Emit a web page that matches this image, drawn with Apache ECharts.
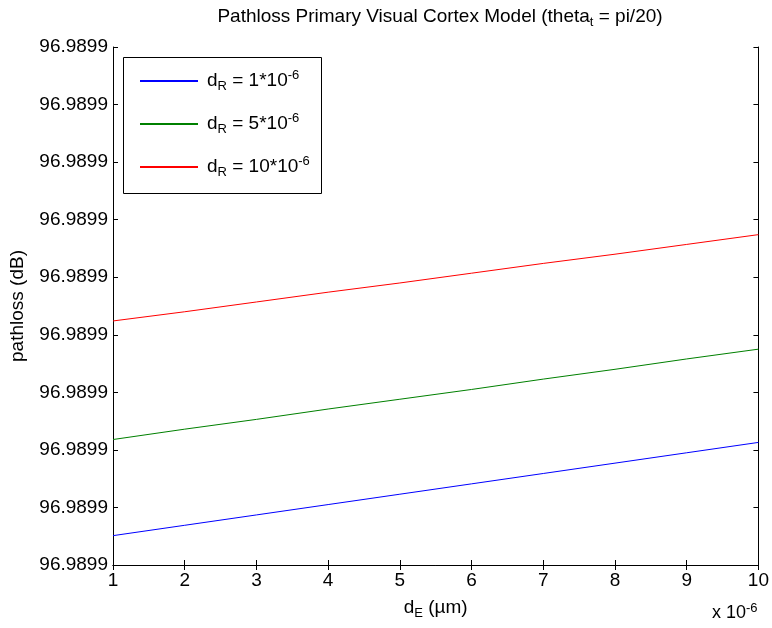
<!DOCTYPE html>
<html>
<head>
<meta charset="utf-8">
<title>Pathloss Primary Visual Cortex Model</title>
<script src="https://cdn.jsdelivr.net/npm/echarts@6/dist/echarts.min.js"></script>
<style>
  html, body { margin: 0; padding: 0; background: #fff; }
  #chart { width: 772px; height: 628px; }
</style>
</head>
<body>
<div id="chart"></div>
<script>
// d_E values (x 10^-6)
var dE = [1, 2, 3, 4, 5, 6, 7, 8, 9, 10]
// pathloss offsets, read in tick steps above the lowest tick
var blueVals = [0.51, 0.69, 0.87, 1.05, 1.23, 1.41, 1.59, 1.77, 1.95, 2.13]
var greenVals = [2.18, 2.36, 2.53, 2.71, 2.88, 3.05, 3.23, 3.40, 3.58, 3.75]
var redVals = [4.24, 4.40, 4.57, 4.74, 4.90, 5.07, 5.24, 5.40, 5.57, 5.74]
var seriesNames = ['dR1', 'dR5', 'dR10']
var legendLabels = ['d{sub|R} = 1*10{sup|-6}', 'd{sub|R} = 5*10{sup|-6}', 'd{sub|R} = 10*10{sup|-6}']
// every y tick shows the same rounded value
var yTickLabels = ['96.9899', '96.9899', '96.9899', '96.9899', '96.9899',
  '96.9899', '96.9899', '96.9899', '96.9899', '96.9899']

var font = 'Liberation Sans, Arial, sans-serif'

function pairs (vals) {
  return dE.map(function (x, i) { return [x, vals[i]] })
}

var chart = echarts.init(document.getElementById('chart'))

var subStyle = { fontSize: 13, fontFamily: font, color: '#000', verticalAlign: 'bottom', padding: [11, 0, 0, 0] }
var supStyle = { fontSize: 13, fontFamily: font, color: '#000', verticalAlign: 'top', padding: [0, 0, 9, 0] }

var axisCommon = {
  axisLine: { lineStyle: { color: '#000', width: 1 } },
  axisTick: { inside: true, length: 5, lineStyle: { color: '#000' } },
  splitLine: { show: false }
}

var option = {
  animation: false,
  backgroundColor: '#fff',
  title: {
    text: 'Pathloss Primary Visual Cortex Model (theta{sub|t} = pi/20)',
    left: 435,
    textAlign: 'center',
    top: 0,
    textStyle: {
      fontFamily: font,
      fontSize: 19,
      fontWeight: 'normal',
      color: '#000',
      rich: { sub: subStyle }
    }
  },
  grid: { left: 113, right: 10, top: 47, bottom: 63 },
  legend: {
    orient: 'vertical',
    left: 135,
    top: 64,
    z: 10,
    itemWidth: 58,
    itemHeight: 2,
    itemGap: 19,
    icon: 'rect',
    data: seriesNames,
    formatter: function (name) {
      return legendLabels[seriesNames.indexOf(name)]
    },
    textStyle: {
      fontFamily: font,
      fontSize: 19,
      color: '#000',
      padding: [0, 0, 0, 4],
      rich: { sub: subStyle, sup: supStyle }
    }
  },
  xAxis: [
    Object.assign({
      type: 'value',
      min: 1,
      max: 10,
      interval: 1,
      position: 'bottom',
      name: 'd{sub|E} (µm)',
      nameLocation: 'middle',
      nameGap: 31,
      nameTextStyle: {
        fontFamily: font,
        fontSize: 19,
        color: '#000',
        rich: { sub: subStyle }
      },
      axisLabel: { fontFamily: font, fontSize: 19, color: '#000', margin: 6 }
    }, axisCommon),
    Object.assign({
      type: 'value',
      min: 1,
      max: 10,
      interval: 1,
      position: 'top',
      axisLabel: { show: false }
    }, axisCommon)
  ],
  yAxis: [
    Object.assign({
      type: 'value',
      min: 0,
      max: 9,
      interval: 1,
      position: 'left',
      name: 'pathloss (dB)',
      nameLocation: 'middle',
      nameGap: 86,
      nameTextStyle: { fontFamily: font, fontSize: 19, color: '#000' },
      axisLabel: {
        fontFamily: font,
        fontSize: 19,
        color: '#000',
        margin: 5,
        formatter: function (v) { return yTickLabels[Math.round(v)] }
      }
    }, axisCommon),
    Object.assign({
      type: 'value',
      min: 0,
      max: 9,
      interval: 1,
      position: 'right',
      axisLabel: { show: false }
    }, axisCommon)
  ],
  graphic: [
    {
      type: 'rect',
      left: 123,
      top: 57,
      shape: { width: 198, height: 136 },
      style: { fill: '#fff', stroke: '#000', lineWidth: 1 },
      z: 1
    },
    {
      type: 'text',
      left: 712,
      top: 602,
      style: {
        text: 'x 10{sup|-6}',
        fontFamily: font,
        fontSize: 18,
        fill: '#000',
        rich: {
          sup: { fontSize: 13, fontFamily: font, fill: '#000', verticalAlign: 'top', padding: [0, 0, 9, 0] }
        }
      }
    }
  ],
  series: [
    {
      name: seriesNames[0],
      type: 'line',
      data: pairs(blueVals),
      showSymbol: false,
      color: '#0000ff',
      lineStyle: { width: 1 }
    },
    {
      name: seriesNames[1],
      type: 'line',
      data: pairs(greenVals),
      showSymbol: false,
      color: '#008000',
      lineStyle: { width: 1 }
    },
    {
      name: seriesNames[2],
      type: 'line',
      data: pairs(redVals),
      showSymbol: false,
      color: '#ff0000',
      lineStyle: { width: 1 }
    }
  ]
}

chart.setOption(option)
</script>
</body>
</html>
